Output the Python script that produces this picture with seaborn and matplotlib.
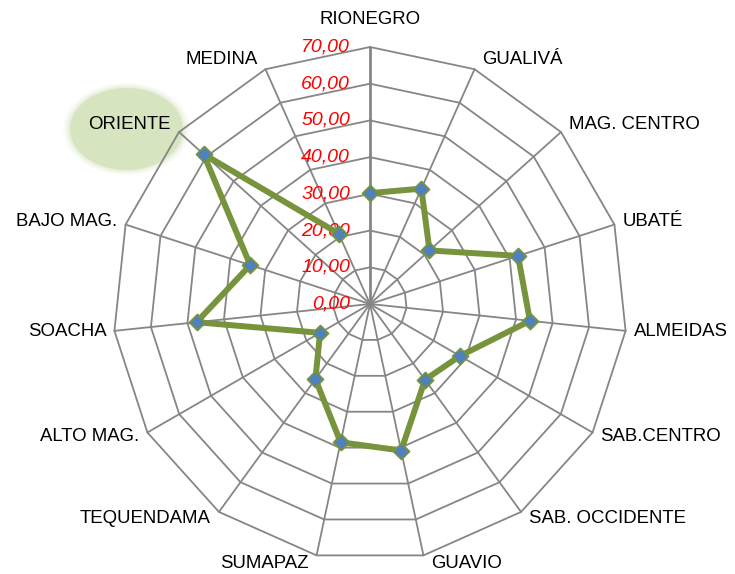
"""
Radar chart by province (recreated)
"""

import numpy as np
import matplotlib
matplotlib.use("Agg")
import matplotlib.pyplot as plt
from matplotlib.patches import Ellipse
import seaborn as sns

# Data
categories = ['RIONEGRO', 'GUALIVÁ', 'MAG. CENTRO', 'UBATÉ', 'ALMEIDAS',
              'SAB.CENTRO', 'SAB. OCCIDENTE', 'GUAVIO', 'SUMAPAZ', 'TEQUENDAMA',
              'ALTO MAG.', 'SOACHA', 'BAJO MAG.', 'ORIENTE', 'MEDINA']
values = [30.2, 34.4, 21.8, 42.4, 43.8, 28.3, 25.5, 40.8, 38.5, 25.3,
          15.7, 47.5, 34.3, 61.0, 21.0]
ticks = [0, 10, 20, 30, 40, 50, 60, 70]
tick_labels = ['0,00', '10,00', '20,00', '30,00', '40,00', '50,00', '60,00', '70,00']
highlight = 'ORIENTE'

W, H = 735, 574
cx, cy = 370, 304          # chart centre in pixels
scale = 257 / 70           # pixels per unit

sns.set_style('white')
plt.rcParams['font.family'] = ['Liberation Sans', 'DejaVu Sans']

fig = plt.figure(figsize=(W / 100, H / 100), dpi=100)
ax = fig.add_axes([0, 0, 1, 1])
ax.set_xlim(-cx / scale, (W - cx) / scale)
ax.set_ylim(-(H - cy) / scale, cy / scale)
ax.axis('off')

n = len(categories)
ang = np.deg2rad(np.arange(n) * 360 / n)
sx, sy = np.sin(ang), np.cos(ang)

# Polygon grid and spokes
grid_c = '#868686'
for t in ticks[1:]:
    ax.plot(np.append(sx, sx[0]) * t, np.append(sy, sy[0]) * t,
            color=grid_c, lw=1.3, zorder=1)
for i in range(n):
    ax.plot([0, sx[i] * 70], [0, sy[i] * 70], color=grid_c,
            lw=2.0 if i == 0 else 1.3, zorder=1)

# Value labels
for t, lab in zip(ticks, tick_labels):
    ax.annotate(lab, (0, t), xytext=(-20, 0), textcoords='offset pixels',
                ha='right', va='center', color='red', style='italic',
                fontsize=14, zorder=2)

# Highlight bubble behind ORIENTE
hx, hy = (126.5 - cx) / scale, (cy - 129) / scale
for k, a in zip([1.12, 1.08, 1.04, 1.0], [0.12, 0.2, 0.3, 1.0]):
    ax.add_patch(Ellipse((hx, hy), 113 / scale * k, 82 / scale * k,
                         facecolor='#d7e4c0', edgecolor='none', alpha=a, zorder=0))

# Category labels
for i, cat in enumerate(categories):
    vx, vy = sx[i] * 70, sy[i] * 70
    if abs(sx[i]) < 0.05:
        ha, dx = 'center', 0
    elif sx[i] > 0:
        ha, dx = 'left', 8
    else:
        ha, dx = 'right', -8
    if i == 0:
        dy = 27
    elif sy[i] > 0:
        dy = 11 * sy[i]
    else:
        dy = 8 * sy[i]
    ax.annotate(cat, (vx, vy), xytext=(dx, dy), textcoords='offset pixels',
                ha=ha, va='center', fontsize=13.4, color='black', zorder=3)

# Data series
px = np.append(sx * values, sx[0] * values[0])
py = np.append(sy * values, sy[0] * values[0])
sns.lineplot(x=px, y=py, sort=False, color='#77933C', lw=4.3, ax=ax, zorder=4)
sns.scatterplot(x=sx * values, y=sy * values, marker='D', s=66, color='#4F81BD',
                edgecolor='#77933C', linewidth=1.3, ax=ax, zorder=5)

plt.savefig('out.png', dpi=100)
